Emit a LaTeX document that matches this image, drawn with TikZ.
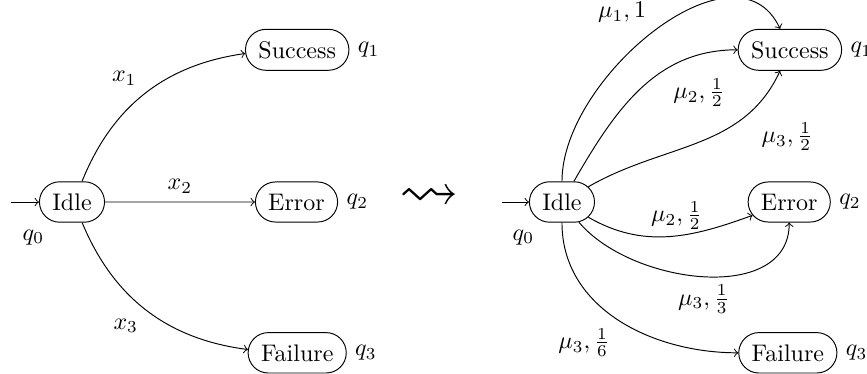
\documentclass[tikz,border=0pt]{standalone}
\usepackage{amsmath,amssymb}
\usetikzlibrary{shapes.misc,positioning}
\tikzset{st/.style={draw,rounded rectangle,inner ysep=4.9pt,inner xsep=4.6pt}}

\begin{document}
\begin{tikzpicture}[>=to]
\useasboundingbox (-1.055,-2.52) rectangle (11.65,2.96);
% before
\coordinate (s0) at (-0.9,0);
\node[st,label=below left:$q_0$] (idle) at (0,0) {Idle};
\node[st,label=right:$q_1$] (succ) at (3.3,2.23) {Success};
\node[st,label=right:$q_2$] (err) at (3.29,0) {Error};
\node[st,label=right:$q_3$] (fail) at (3.3,-2.21) {Failure};
\draw[->] (s0) -- (idle);
\draw[->] (idle) to[bend left=30] node[above left] {$x_1$} (succ);
\draw[->] (idle) -- node[above] {$x_2$} (err);
\draw[->] (idle) to[bend right=30] node[below left] {$x_3$} (fail);
% squiggle
\node (sq) at (5.24,0.06) {\Huge$\rightsquigarrow$};
% after
\coordinate (s1) at (6.3,0);
\node[st,label=below left:$q_0$] (idle2) at (7.18,0) {Idle};
\node[st,label=right:$q_1$] (succ2) at (10.52,2.23) {Success};
\node[st,label=right:$q_2$] (err2) at (10.51,0) {Error};
\node[st,label=right:$q_3$] (fail2) at (10.49,-2.21) {Failure};
\draw[->] (s1) -- (idle2);
\draw[->] (idle2) to[out=90,in=115] node[above left] {$\mu_1, 1$} (succ2);
\draw[->] (idle2) to[out=60,in=180] node[pos=0.65,below right] {$\mu_2, \frac{1}{2}$} (succ2);
\draw[->] (idle2) to[out=30,in=-115] node[pos=0.8,below right=2pt and 0pt] {$\mu_3, \frac{1}{2}$} (succ2);
\draw[->] (idle2) to[out=-30,in=200] node[pos=0.55,above=-1pt] {$\mu_2, \frac{1}{2}$} (err2);
\draw[->] (idle2) to[out=-50,in=-90] node[below] {$\mu_3, \frac{1}{3}$} (err2);
\draw[->] (idle2) to[out=-90,in=180] node[below left] {$\mu_3, \frac{1}{6}$} (fail2);
\end{tikzpicture}
\end{document}
